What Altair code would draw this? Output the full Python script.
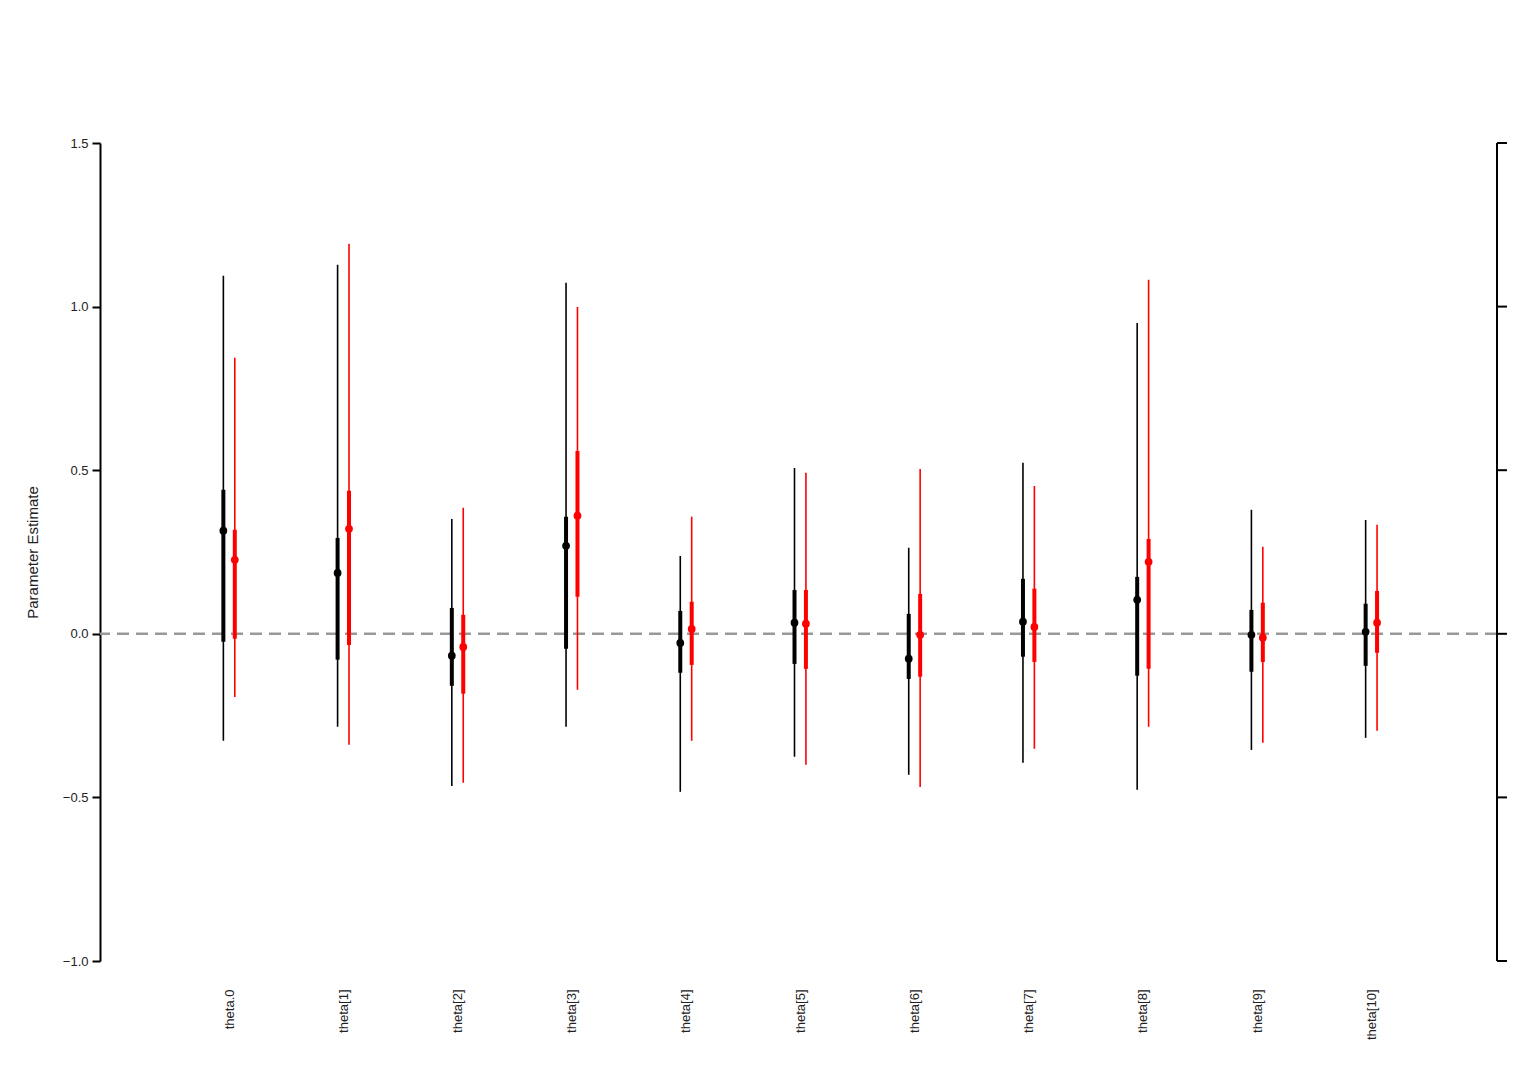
import altair as alt
import pandas as pd

names = ["theta.0", "theta[1]", "theta[2]", "theta[3]", "theta[4]", "theta[5]",
         "theta[6]", "theta[7]", "theta[8]", "theta[9]", "theta[10]"]

# black series
b_est = [0.315, 0.186, -0.067, 0.269, -0.028, 0.034, -0.076, 0.037, 0.104, -0.003, 0.006]
b_lo95 = [-0.327, -0.284, -0.465, -0.284, -0.483, -0.376, -0.431, -0.394, -0.477, -0.355, -0.318]
b_hi95 = [1.094, 1.128, 0.351, 1.073, 0.238, 0.507, 0.263, 0.523, 0.950, 0.379, 0.348]
b_lo50 = [-0.024, -0.079, -0.159, -0.046, -0.119, -0.092, -0.138, -0.070, -0.128, -0.116, -0.098]
b_hi50 = [0.440, 0.293, 0.079, 0.358, 0.070, 0.134, 0.061, 0.168, 0.174, 0.073, 0.092]

# red series
r_est = [0.226, 0.321, -0.040, 0.361, 0.015, 0.031, -0.003, 0.021, 0.220, -0.012, 0.034]
r_lo95 = [-0.193, -0.339, -0.455, -0.171, -0.327, -0.400, -0.468, -0.351, -0.284, -0.333, -0.296]
r_hi95 = [0.844, 1.192, 0.385, 0.999, 0.358, 0.492, 0.504, 0.452, 1.082, 0.266, 0.333]
r_lo50 = [-0.015, -0.034, -0.183, 0.113, -0.095, -0.107, -0.131, -0.086, -0.107, -0.086, -0.058]
r_hi50 = [0.318, 0.437, 0.058, 0.559, 0.098, 0.134, 0.122, 0.138, 0.290, 0.095, 0.131]

y_ticks = [-1.0, -0.5, 0.0, 0.5, 1.0, 1.5]

rows = []
for i in range(len(names)):
    rows.append({"x": i - 0.05, "s": "black", "est": b_est[i], "lo95": b_lo95[i],
                 "hi95": b_hi95[i], "lo50": b_lo50[i], "hi50": b_hi50[i]})
    rows.append({"x": i + 0.05, "s": "red", "est": r_est[i], "lo95": r_lo95[i],
                 "hi95": r_hi95[i], "lo50": r_lo50[i], "hi50": r_hi50[i]})
df = pd.DataFrame(rows)

color = alt.Color("s:N", scale=alt.Scale(domain=["black", "red"], range=["black", "red"]), legend=None)
label_expr = "[" + ",".join(f"'{n}'" for n in names) + "][datum.value]"
x = alt.X("x:Q", scale=alt.Scale(domain=[-1.13, 11.1], nice=False, zero=False),
          axis=alt.Axis(values=list(range(11)), labelExpr=label_expr, labelAngle=-90,
                        domain=False, ticks=False, grid=False, labelPadding=28,
                        labelFontSize=13, title=None))
y_scale = alt.Scale(domain=[-1.0, 1.5], nice=False, zero=False)
y_axis = alt.Axis(values=y_ticks, format=".1f", grid=False,
                  domainWidth=2, tickWidth=2, tickSize=8, domainColor="black",
                  tickColor="black", labelFontSize=13, labelPadding=4,
                  title="Parameter Estimate", titleFontSize=15, titleFontWeight="normal",
                  titlePadding=22)


def Y(field):
    return alt.Y(field, scale=y_scale, axis=y_axis)


base = alt.Chart(df)
zero = alt.Chart(pd.DataFrame({"y": [0.0]})).mark_rule(
    color="#999999", strokeWidth=2.5, strokeDash=[12, 7]).encode(y=Y("y:Q"))
thin = base.mark_rule(strokeWidth=1.6).encode(x=x, y=Y("lo95:Q"), y2="hi95:Q", color=color)
thick = base.mark_rule(strokeWidth=4).encode(x=x, y=Y("lo50:Q"), y2="hi50:Q", color=color)
pts = base.mark_circle(size=60, opacity=1).encode(x=x, y=Y("est:Q"), color=color)

# right-hand axis drawn as rules on the shared y scale
tick_df = pd.DataFrame({"y": y_ticks})
right_dom = alt.Chart(pd.DataFrame({"a": [y_ticks[0]], "b": [y_ticks[-1]]})).mark_rule(
    color="black", strokeWidth=2).encode(x=alt.value(1397), y=Y("a:Q"), y2="b:Q")
right_ticks = alt.Chart(tick_df).mark_rule(color="black", strokeWidth=2).encode(
    x=alt.value(1397), x2=alt.value(1407), y=Y("y:Q"))

chart = alt.layer(zero, thin, thick, pts, right_dom, right_ticks).properties(
    width=1397, height=818,
    autosize=alt.AutoSizeParams(type="none"),
    padding={"left": 92, "top": 135, "right": 20, "bottom": 100},
).configure_view(stroke=None).configure_axis(labelFont="Liberation Sans", titleFont="Liberation Sans",
                                              labelColor="#222", titleColor="#222")

chart.save("out.html", embed_options={"renderer": "svg", "actions": False})
